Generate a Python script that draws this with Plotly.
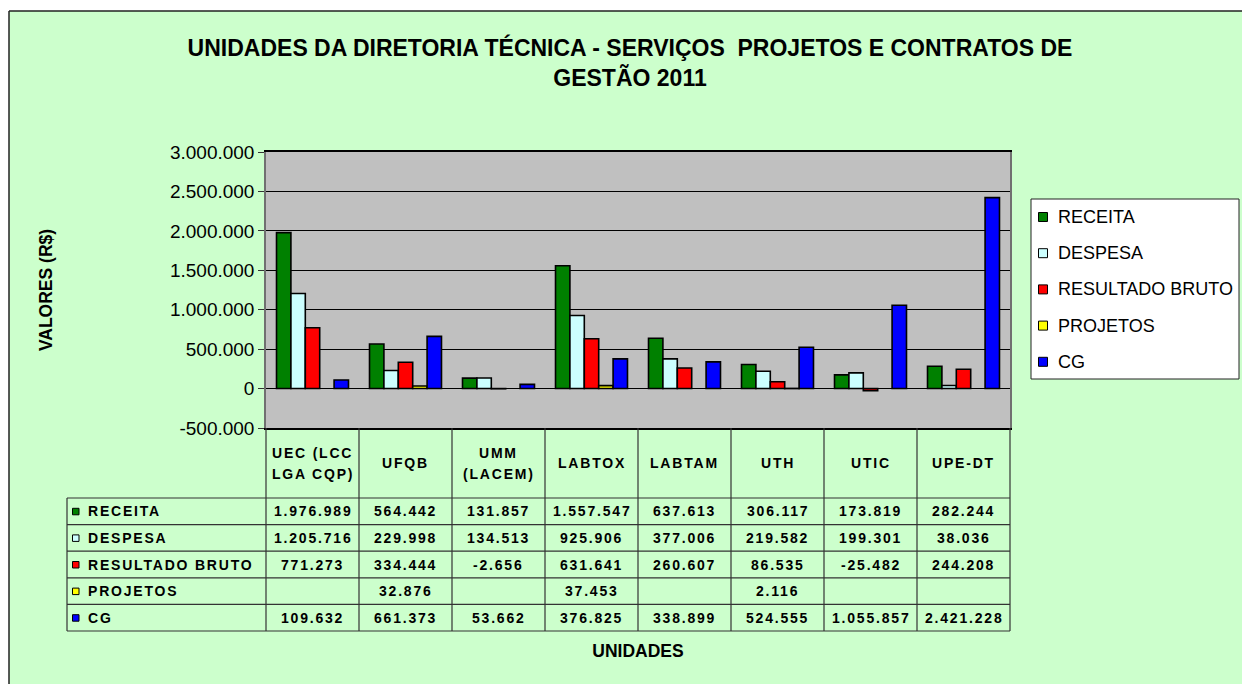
import plotly.graph_objects as go

# ---------------- data ----------------
units = ["UEC (LCC LGA CQP)", "UFQB", "UMM (LACEM)", "LABTOX", "LABTAM", "UTH", "UTIC", "UPE-DT"]
unit_header_lines = [["UEC (LCC", "LGA CQP)"], ["UFQB"], ["UMM", "(LACEM)"], ["LABTOX"],
                     ["LABTAM"], ["UTH"], ["UTIC"], ["UPE-DT"]]
series_names = ["RECEITA", "DESPESA", "RESULTADO BRUTO", "PROJETOS", "CG"]
receita = [1976989, 564442, 131857, 1557547, 637613, 306117, 173819, 282244]
despesa = [1205716, 229998, 134513, 925906, 377006, 219582, 199301, 38036]
resultado_bruto = [771273, 334444, -2656, 631641, 260607, 86535, -25482, 244208]
projetos = [None, 32876, None, 37453, None, 2116, None, None]
cg = [109632, 661373, 53662, 376825, 338899, 524555, 1055857, 2421228]
series_values = [receita, despesa, resultado_bruto, projetos, cg]
series_colors = ["#008000", "#CCFFFF", "#FF0000", "#FFFF00", "#0000FF"]
y_tick_vals = [-500000, 0, 500000, 1000000, 1500000, 2000000, 2500000, 3000000]
y_tick_text = ["-500.000", "0", "500.000", "1.000.000", "1.500.000", "2.000.000", "2.500.000", "3.000.000"]

title_text = "UNIDADES DA DIRETORIA TÉCNICA - SERVIÇOS  PROJETOS E CONTRATOS DE<br>GESTÃO 2011"

# ---------------- geometry (pixels) ----------------
W, H = 1242, 684
PL, PR, PT, PB = 266, 1010, 152, 428
FONT = "Liberation Sans, Arial, sans-serif"
TABLE_FONT = dict(family=FONT, size=14, color="black", weight="bold")


def px(x):
    return (x - PL) / (PR - PL)


def py(y):
    return (PB - y) / (PB - PT)


def fmt(v):
    return "" if v is None else f"{v:,}".replace(",", ".")


def spaced(t):
    return f"<span style='letter-spacing:1.8px'>{t}</span>"


fig = go.Figure()
for name, vals, col in zip(series_names, series_values, series_colors):
    fig.add_trace(go.Bar(
        x=units, y=vals, name=name,
        marker=dict(color=col, line=dict(color="black", width=1.6)),
        showlegend=False,
    ))

shapes = []
annotations = []

# white page strips and chart border
shapes.append(dict(type="rect", xref="paper", yref="paper", x0=px(0), x1=px(W), y0=py(0), y1=py(11),
                   fillcolor="white", line=dict(width=0), layer="below"))
shapes.append(dict(type="rect", xref="paper", yref="paper", x0=px(0), x1=px(9), y0=py(0), y1=py(H),
                   fillcolor="white", line=dict(width=0), layer="below"))
shapes.append(dict(type="line", xref="paper", yref="paper", x0=px(9), x1=px(W), y0=py(11), y1=py(11),
                   line=dict(color="#222222", width=1.5)))
shapes.append(dict(type="line", xref="paper", yref="paper", x0=px(9), x1=px(9), y0=py(11), y1=py(H),
                   line=dict(color="#222222", width=1.5)))

# ---------------- data table ----------------
n = len(units)
TL = 67
HB = 498
ROW_H = 26.6
rows_bottom = HB + ROW_H * len(series_names)
grid_line = dict(color="#333333", width=1.2)
for k in range(len(series_names) + 1):
    yy = HB + ROW_H * k
    shapes.append(dict(type="line", xref="paper", yref="paper", x0=px(TL), x1=1, y0=py(yy), y1=py(yy),
                       line=grid_line))
shapes.append(dict(type="line", xref="paper", yref="paper", x0=px(TL), x1=px(TL), y0=py(HB), y1=py(rows_bottom),
                   line=grid_line))
for i in range(n + 1):
    shapes.append(dict(type="line", xref="paper", yref="paper", x0=i / n, x1=i / n, y0=0, y1=py(rows_bottom),
                       line=grid_line))

# header labels
hc = (PB + HB) / 2
for i, lines in enumerate(unit_header_lines):
    m = len(lines)
    for j, ln in enumerate(lines):
        yy = hc + (j - (m - 1) / 2) * 21
        annotations.append(dict(xref="paper", yref="paper", x=(i + 0.5) / n, y=py(yy), text=spaced(ln),
                                showarrow=False, xanchor="center", yanchor="middle", font=TABLE_FONT))

# row labels and values
for r, (name, vals, col) in enumerate(zip(series_names, series_values, series_colors)):
    yc = HB + ROW_H * (r + 0.5)
    shapes.append(dict(type="rect", xref="paper", yref="paper", x0=px(72.5), x1=px(79), y0=py(yc + 3.5),
                       y1=py(yc - 3.0), fillcolor=col, line=dict(color="black", width=1)))
    annotations.append(dict(xref="paper", yref="paper", x=px(86), y=py(yc), text=spaced(name),
                            showarrow=False, xanchor="left", yanchor="middle", font=TABLE_FONT))
    for i, v in enumerate(vals):
        if v is None:
            continue
        annotations.append(dict(xref="paper", yref="paper", x=(i + 0.5) / n, y=py(yc), text=spaced(fmt(v)),
                                showarrow=False, xanchor="center", yanchor="middle", font=TABLE_FONT))

# ---------------- legend (drawn) ----------------
LX0, LX1, LY0, LY1 = 1031, 1239, 199, 379
shapes.append(dict(type="rect", xref="paper", yref="paper", x0=px(LX0), x1=px(LX1), y0=py(LY0), y1=py(LY1),
                   fillcolor="white", line=dict(color="#222222", width=1)))
for r, (name, col) in enumerate(zip(series_names, series_colors)):
    yc = 217 + 36.2 * r
    shapes.append(dict(type="rect", xref="paper", yref="paper", x0=px(1038.5), x1=px(1047.5),
                       y0=py(yc + 4.5), y1=py(yc - 4.5), fillcolor=col, line=dict(color="black", width=1)))
    annotations.append(dict(xref="paper", yref="paper", x=px(1056), y=py(yc), text=name,
                            showarrow=False, xanchor="left", yanchor="middle",
                            font=dict(family=FONT, size=18, color="black")))

fig.update_layout(
    width=W, height=H,
    margin=dict(l=PL, r=W - PR, t=PT, b=H - PB, pad=0),
    paper_bgcolor="#CCFFCC",
    plot_bgcolor="#C0C0C0",
    barmode="group", bargap=0.226, bargroupgap=0,
    showlegend=False,
    title=dict(text=f"<b>{title_text}</b>", x=630 / W, xanchor="center", xref="container",
               y=1 - 56 / H, yanchor="top", yref="container",
               font=dict(family=FONT, size=23, color="black")),
    font=dict(family=FONT, color="black"),
    xaxis=dict(type="category", categoryorder="array", categoryarray=units,
               showticklabels=False, ticks="", showgrid=False, zeroline=False,
               showline=True, linecolor="black", linewidth=1.5, mirror=True,
               title=dict(text="<b>UNIDADES</b>", standoff=216,
                          font=dict(family=FONT, size=17.5, color="black"))),
    yaxis=dict(range=[-500000, 3000000], tickvals=y_tick_vals, ticktext=y_tick_text,
               showgrid=True, gridcolor="black", gridwidth=1,
               zeroline=True, zerolinecolor="black", zerolinewidth=1,
               showline=True, linecolor="#707070", linewidth=1.5, mirror=True,
               ticks="outside", ticklen=6, tickcolor="#333333",
               tickfont=dict(family=FONT, size=19, color="black"),
               title=dict(text="<b>VALORES (R$)</b>", standoff=113,
                          font=dict(family=FONT, size=17.5, color="black"))),
    shapes=shapes,
    annotations=annotations,
)

fig.write_html("out.html", config={"displayModeBar": False},
               post_script="document.body.style.margin='0';document.body.style.overflow='hidden';")
